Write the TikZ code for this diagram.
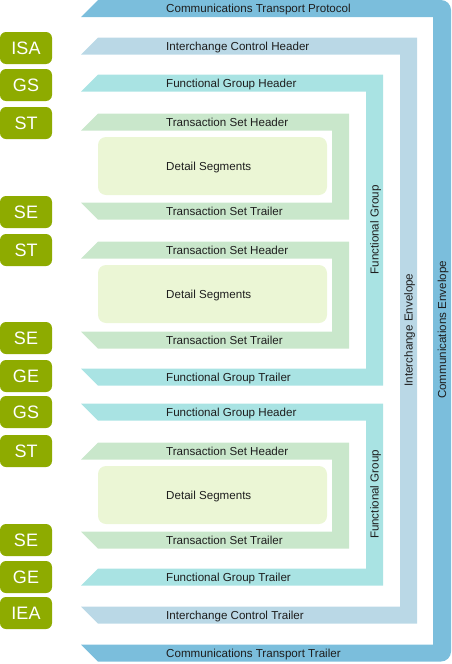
\documentclass[tikz,border=0pt]{standalone}
\usepackage{fontspec}
\setmainfont{Liberation Sans}
\definecolor{commc}{HTML}{7BBEDC}
\definecolor{interc}{HTML}{BAD8E6}
\definecolor{fgc}{HTML}{A9E3E3}
\definecolor{tsc}{HTML}{C9E7CB}
\definecolor{detc}{HTML}{EBF6D5}
\definecolor{labc}{HTML}{8EAB00}
\definecolor{txtc}{HTML}{1E1E1E}
\begin{document}
\begin{tikzpicture}[x=1pt,y=-1pt,
  lab/.style={fill=labc, rounded corners=6pt, minimum width=52pt, minimum height=32pt, inner sep=0pt, text=white, font=\fontsize{18}{18}\selectfont},
  bartext/.style={anchor=base west, inner sep=0pt, text=txtc, font=\fontsize{11.6}{12}\selectfont},
  vtext/.style={rotate=90, anchor=base, inner sep=0pt, text=txtc, font=\fontsize{11.6}{12}\selectfont},
  detbox/.style={fill=detc, rounded corners=8pt}]
\useasboundingbox (0,0) rectangle (452,664);
% Communications envelope
\fill[commc] (98,0) -- (441,0) arc[start angle=-90,end angle=0,radius=10] -- (451,651.5) arc[start angle=0,end angle=90,radius=10] -- (98,661.5) -- (81,644.5) -- (433,644.5) -- (433,17) -- (81,17) -- cycle;
% Interchange envelope
\fill[interc] (98,37.5) -- (417,37.5) -- (417,623.5) -- (98,623.5) -- (81,606.5) -- (400,606.5) -- (400,54.5) -- (81,54.5) -- cycle;
% Functional groups
\fill[fgc] (98,74.5) -- (383,74.5) -- (383,385.5) -- (98,385.5) -- (81,368.5) -- (366,368.5) -- (366,91.5) -- (81,91.5) -- cycle;
\fill[fgc] (81,403.5) -- (383,403.5) -- (383,585.5) -- (81,585.5) -- (98,568.5) -- (366,568.5) -- (366,420.5) -- (98,420.5) -- cycle;
% Transaction sets
\fill[tsc] (98,113.5) -- (349,113.5) -- (349,219.5) -- (98,219.5) -- (81,202.5) -- (332,202.5) -- (332,130.5) -- (81,130.5) -- cycle;
\fill[tsc] (98,241.5) -- (349,241.5) -- (349,348.5) -- (98,348.5) -- (81,331.5) -- (332,331.5) -- (332,258.5) -- (81,258.5) -- cycle;
\fill[tsc] (98,442.5) -- (349,442.5) -- (349,548.5) -- (98,548.5) -- (81,531.5) -- (332,531.5) -- (332,459.5) -- (81,459.5) -- cycle;
% Detail boxes
\fill[detbox] (98,137) rectangle (327,195);
\fill[detbox] (98,265) rectangle (327,323);
\fill[detbox] (98,466) rectangle (327,524);
% Bar texts (baseline = centre + 4)
\node[bartext] (ctp) at (166,12.5) {Communications Transport Protocol};
\node[bartext] (ich) at (166,50) {Interchange Control Header};
\node[bartext] (fgh1) at (166,87) {Functional Group Header};
\node[bartext] (tsh1) at (166,126) {Transaction Set Header};
\node[bartext] (ds1) at (166,170) {Detail Segments};
\node[bartext] (tst1) at (166,215) {Transaction Set Trailer};
\node[bartext] (tsh2) at (166,254) {Transaction Set Header};
\node[bartext] (ds2) at (166,298.5) {Detail Segments};
\node[bartext] (tst2) at (166,344) {Transaction Set Trailer};
\node[bartext] (fgt1) at (166,381) {Functional Group Trailer};
\node[bartext] (fgh2) at (166,416) {Functional Group Header};
\node[bartext] (tsh3) at (166,455) {Transaction Set Header};
\node[bartext] (ds3) at (166,499.5) {Detail Segments};
\node[bartext] (tst3) at (166,544) {Transaction Set Trailer};
\node[bartext] (fgt2) at (166,581) {Functional Group Trailer};
\node[bartext] (ict) at (166,619) {Interchange Control Trailer};
\node[bartext] (ctt) at (166,657.5) {Communications Transport Trailer};
% Vertical texts
\node[vtext] (fg1) at (378.5,230) {Functional Group};
\node[vtext] (fg2) at (378.5,494.5) {Functional Group};
\node[vtext] (ie) at (412.5,330) {Interchange Envelope};
\node[vtext] (ce) at (446,330) {Communications Envelope};
% Segment labels
\node[lab] (isa) at (26,48) {ISA};
\node[lab] (gs1) at (26,85) {GS};
\node[lab] (st1) at (26,123) {ST};
\node[lab] (se1) at (26,212) {SE};
\node[lab] (st2) at (26,250) {ST};
\node[lab] (se2) at (26,338) {SE};
\node[lab] (ge1) at (26,376) {GE};
\node[lab] (gs2) at (26,412) {GS};
\node[lab] (st3) at (26,451) {ST};
\node[lab] (se3) at (26,540) {SE};
\node[lab] (ge2) at (26,577) {GE};
\node[lab] (iea) at (26,613) {IEA};
\end{tikzpicture}
\end{document}
